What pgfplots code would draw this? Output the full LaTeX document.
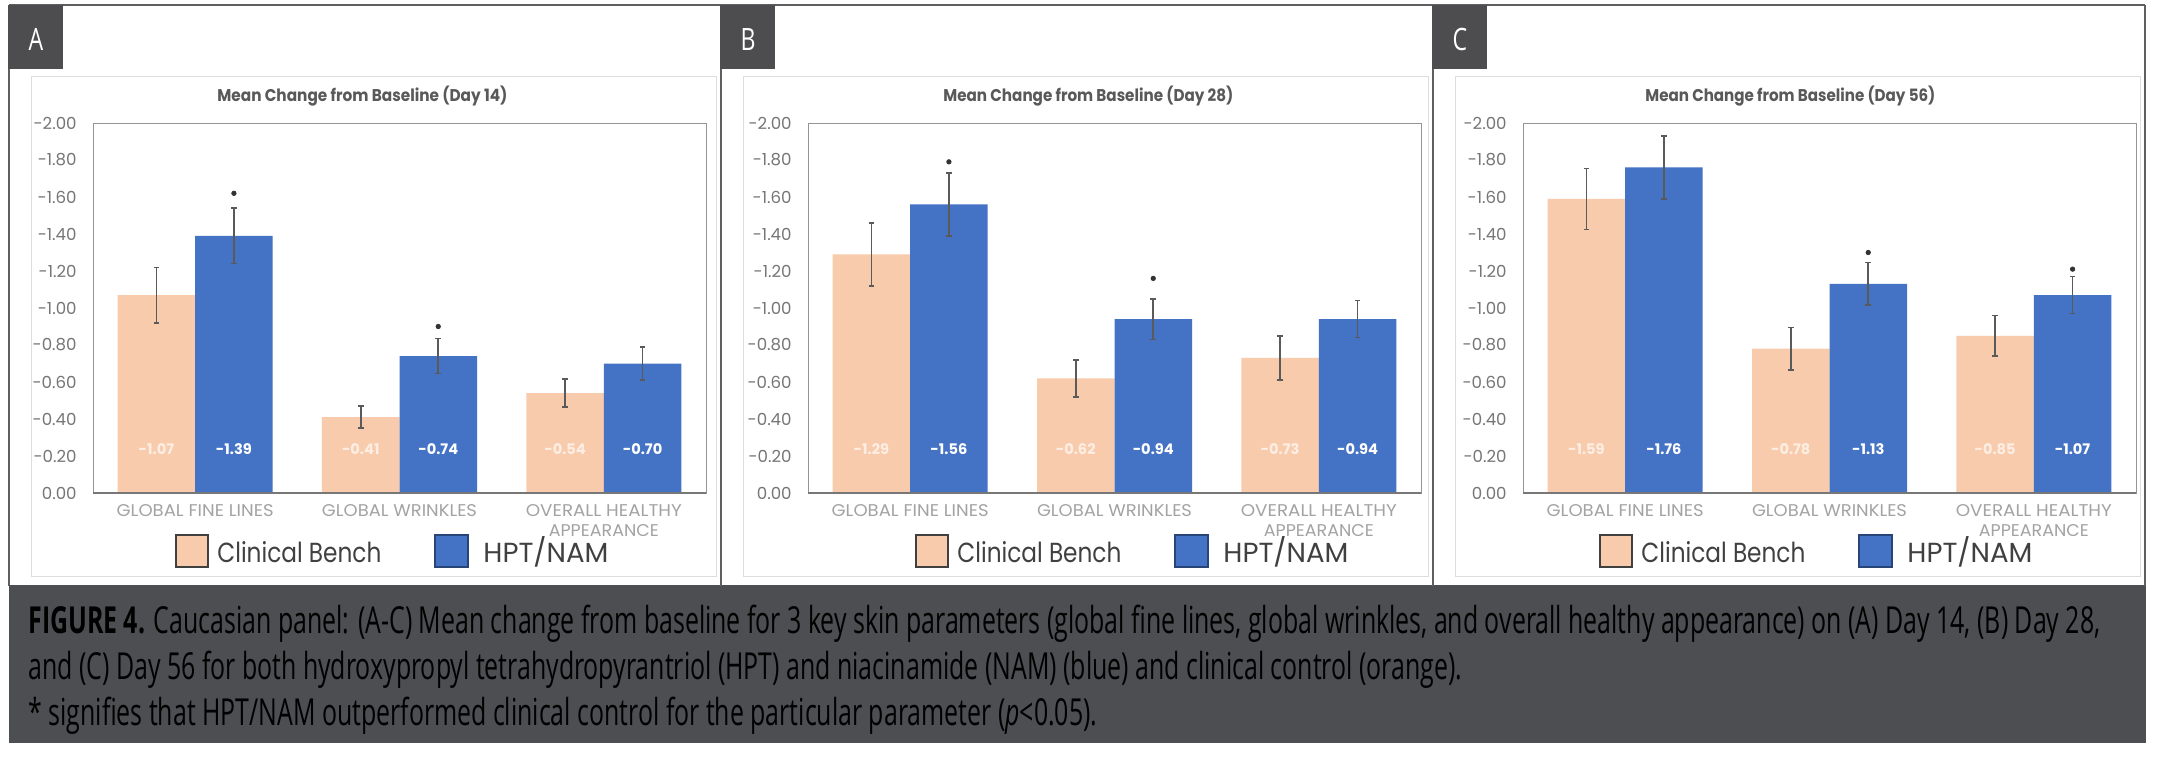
\documentclass[border=0pt]{standalone}
\usepackage{pgfplots}
\pgfplotsset{compat=1.18}
\usepackage{graphicx}
\usepackage{fontspec}
\setmainfont{Open Sans}
\newfontfamily\chartfont{Poppins}
\newfontfamily\capfont{Open Sans}

\definecolor{benchfill}{HTML}{F8CBAD}
\definecolor{hptfill}{HTML}{4472C4}
\definecolor{errcol}{HTML}{5A5A5A}
\definecolor{framecol}{HTML}{5E5F61}
\definecolor{tabcol}{HTML}{4D4D4F}
\definecolor{capband}{HTML}{4D4E51}
\definecolor{ticktext}{HTML}{767676}
\definecolor{titletext}{HTML}{595959}
\definecolor{cattext}{HTML}{A3A3A3}
\definecolor{legtext}{HTML}{404040}
\definecolor{benchlab}{HTML}{FDEEE4}
\definecolor{chartedge}{HTML}{DDDDDD}
\definecolor{plotedge}{HTML}{959595}
\definecolor{starcol}{HTML}{333333}

% stretch text horizontally only, to a given width
\newcommand\fitw[2]{\resizebox{#1}{\height}{#2}}

\pgfplotsset{
  panel/.style={
    scale only axis, width=306.5pt, height=185pt, anchor=south west,
    xmin=-0.5, xmax=2.5, ymin=-2, ymax=0, y dir=reverse,
    axis line style={draw=plotedge, line width=0.5pt},
    major tick length=0pt,
    xtick={0,1,2},
    xticklabels={\fitw{78.5pt}{GLOBAL FINE LINES},\fitw{77.5pt}{GLOBAL WRINKLES},{\fitw{78pt}{OVERALL HEALTHY}\\\fitw{55pt}{APPEARANCE}}},
    xticklabel style={font=\chartfont\fontsize{8.5}{10}\selectfont, text=cattext,
      align=center, inner sep=0pt, anchor=north, yshift=-5.5pt},
    ytick={-2,-1.8,-1.6,-1.4,-1.2,-1,-0.8,-0.6,-0.4,-0.2,0},
    yticklabel style={font=\chartfont\fontsize{8.3}{10}\selectfont, text=ticktext,
      inner sep=0pt, anchor=east, xshift=-8pt,
      /pgf/number format/.cd, fixed, fixed zerofill, precision=2, assume math mode=true},
    clip=false, axis on top,
  },
  % value label inside the bar, 0.235 above the zero line (92.5pt per unit)
  barlab/.style 2 args={
    visualization depends on={rawy \as \rawy},
    nodes near coords={\pgfmathprintnumber[fixed, fixed zerofill, precision=2, assume math mode=true]{\pgfplotspointmeta}},
    nodes near coords align={center},
    every node near coord/.append style={font=\chartfont\bfseries\fontsize{7.3}{9}\selectfont,
      inner sep=0pt, anchor=center, text=#1, xshift=#2, yshift={(\rawy+0.235)*92.5pt}}},
  bench/.style={ybar, bar width=38.75pt, bar shift=-19.375pt, fill=benchfill, draw=none,
    barlab={benchlab}{-19.375pt}},
  hpt/.style={ybar, bar width=38.75pt, bar shift=19.375pt, fill=hptfill, draw=none,
    barlab={white}{19.375pt}},
  errs/.style={draw=none, mark=none, forget plot,
    error bars/.cd, y dir=both, y explicit,
    error bar style={draw=errcol, line width=0.8pt},
    error mark options={rotate=90, draw=errcol, mark size=1.4pt, line width=0.8pt}},
  stars/.style={only marks, mark=*, mark size=1.1pt, color=starcol},
}

\begin{document}%
\newsavebox\capone\newsavebox\captwo\newsavebox\capthree%
\sbox\capone{\capfont\fontsize{18.6}{20}\selectfont\textbf{FIGURE 4.} Caucasian panel: (A-C) Mean change from baseline for 3 key skin parameters (global fine lines, global wrinkles, and overall healthy appearance) on (A) Day 14, (B) Day 28,}%
\sbox\captwo{\capfont\fontsize{18.6}{20}\selectfont and (C) Day 56 for both hydroxypropyl tetrahydropyrantriol (HPT) and niacinamide (NAM) (blue) and clinical control (orange).}%
\sbox\capthree{\capfont\fontsize{18.6}{20}\selectfont * signifies that HPT/NAM outperformed clinical control for the particular parameter (\textit{p}<0.05).}%
\newlength\capw\setlength\capw{\wd\capone}%
\pgfmathsetmacro\capscale{1036/\capw}%
\begin{tikzpicture}
\useasboundingbox (0,0) rectangle (1081.5pt,-379pt);

% ---- frames, tabs, chart areas (pixel coordinates, y down)
\begin{scope}[x=0.5pt, y=-0.5pt]
  \fill[white] (0,0) rectangle (2163,758);
  \foreach \pl in {9, 721, 1433}
    \draw[chartedge, line width=0.5pt] (\pl+22,77) rectangle (\pl+707,577);
  \fill[capband] (9,585) rectangle (2146,743);
  \draw[framecol, line width=1pt] (9,5) -- (2145,5);
  \foreach \x in {9,721,1433,2145} \draw[framecol, line width=1pt] (\x,5) -- (\x,586);
  \foreach \pl/\t in {9/A, 721/B, 1433/C} {
    \fill[tabcol] (\pl-1,5) rectangle (\pl+54,69);
    \node[anchor=base, inner sep=0pt, text=white, font=\capfont\fontsize{15.4}{16}\selectfont]
      at (\pl+27,51) {\scalebox{0.75}[1]{\t}};
  }
  % titles
  \foreach \tx/\d in {217/14, 943/28, 1645/56}
    \node[anchor=base west, inner sep=0pt, text=titletext,
      font=\chartfont\bfseries\fontsize{8.5}{10}\selectfont]
      at (\tx,102) {\fitw{145pt}{Mean Change from Baseline (Day \d)}};
  % legends
  \foreach \lx in {176, 916, 1600} {
    \fill[benchfill, draw=legtext, line width=1pt] (\lx,535) rectangle (\lx+32,567);
    \node[anchor=base west, inner sep=0pt, text=legtext, font=\chartfont\fontsize{13.8}{15}\selectfont]
      at (\lx+41,563) {\fitw{82pt}{Clinical Bench}};
    \fill[hptfill, draw=hptfill!60!black, line width=1pt] (\lx+259,535) rectangle (\lx+292,567);
    \node[anchor=base west, inner sep=0pt, text=legtext, font=\chartfont\fontsize{13.8}{15}\selectfont]
      at (\lx+307,563) {\fitw{62.5pt}{HPT/NAM}};
  }
  % caption
  \node[anchor=base west, inner sep=0pt, text=white] at (28,633) {\scalebox{\capscale}[1]{\usebox\capone}};
  \node[anchor=base west, inner sep=0pt, text=white] at (28,679) {\scalebox{\capscale}[1]{\usebox\captwo}};
  \node[anchor=base west, inner sep=0pt, text=white] at (28,725) {\scalebox{\capscale}[1]{\usebox\capthree}};
\end{scope}

% ---- A: Day 14
\begin{axis}[panel, at={(46.5pt,-246.5pt)}]
  \addplot[bench] coordinates {(0,-1.07) (1,-0.41) (2,-0.54)};
  \addplot[hpt] coordinates {(0,-1.39) (1,-0.74) (2,-0.70)};
  \addplot[errs] coordinates {(-0.1896,-1.07) +- (0,0.15) (0.8104,-0.41) +- (0,0.06) (1.8104,-0.54) +- (0,0.075)};
  \addplot[errs] coordinates {(0.1896,-1.39) +- (0,0.15) (1.1896,-0.74) +- (0,0.095) (2.1896,-0.70) +- (0,0.09)};
  \addplot[stars] coordinates {(0.1896,-1.62) (1.1896,-0.90)};
\end{axis}

% ---- B: Day 28
\begin{axis}[panel, at={(404pt,-246.5pt)}]
  \addplot[bench] coordinates {(0,-1.29) (1,-0.62) (2,-0.73)};
  \addplot[hpt] coordinates {(0,-1.56) (1,-0.94) (2,-0.94)};
  \addplot[errs] coordinates {(-0.1896,-1.29) +- (0,0.17) (0.8104,-0.62) +- (0,0.10) (1.8104,-0.73) +- (0,0.12)};
  \addplot[errs] coordinates {(0.1896,-1.56) +- (0,0.17) (1.1896,-0.94) +- (0,0.11) (2.1896,-0.94) +- (0,0.10)};
  \addplot[stars] coordinates {(0.1896,-1.79) (1.1896,-1.16)};
\end{axis}

% ---- C: Day 56
\begin{axis}[panel, at={(761.5pt,-246.5pt)}]
  \addplot[bench] coordinates {(0,-1.59) (1,-0.78) (2,-0.85)};
  \addplot[hpt] coordinates {(0,-1.76) (1,-1.13) (2,-1.07)};
  \addplot[errs] coordinates {(-0.1896,-1.59) +- (0,0.165) (0.8104,-0.78) +- (0,0.115) (1.8104,-0.85) +- (0,0.11)};
  \addplot[errs] coordinates {(0.1896,-1.76) +- (0,0.17) (1.1896,-1.13) +- (0,0.115) (2.1896,-1.07) +- (0,0.10)};
  \addplot[stars] coordinates {(1.1896,-1.30) (2.1896,-1.21)};
\end{axis}

% darker baseline under each group of bars
\begin{scope}[x=0.5pt, y=-0.5pt]
  \foreach \px in {93, 808, 1523} \draw[plotedge!80!black, line width=0.8pt] (\px,493) -- (\px+613,493);
\end{scope}
\end{tikzpicture}
\end{document}
